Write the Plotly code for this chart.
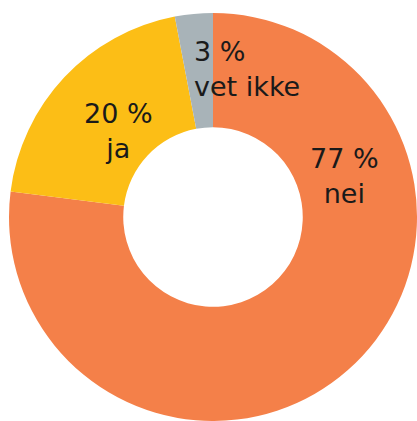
import plotly.graph_objects as go

labels = ["nei", "ja", "vet ikke"]
values = [77, 20, 3]
colors = ["#F48049", "#FCBE16", "#A8B3B8"]

W, H = 417, 421

fig = go.Figure()
fig.add_trace(go.Pie(
    labels=labels,
    values=values,
    sort=False,
    direction="clockwise",
    rotation=0,
    hole=0.44,
    marker=dict(colors=colors, line=dict(width=0)),
    textinfo="none",
    hoverinfo="label+percent",
    showlegend=False,
    domain=dict(x=[9 / W, 1], y=[0, 408 / H]),
))

# label positions in pixels (center x, center y, anchor)
label_pos = [(344, 176, "center"), (118, 131, "center"), (192, 69, "left")]
font = dict(family="DejaVu Sans", size=27, color="#1a1a1a")
for lab, val, (px, py, anc) in zip(labels, values, label_pos):
    fig.add_annotation(
        x=px / W, y=1 - py / H, xref="paper", yref="paper",
        text=f"{val} %<br>{lab}", showarrow=False,
        xanchor=anc, yanchor="middle", align=anc,
        font=font,
    )

fig.update_layout(
    width=W, height=H,
    margin=dict(l=0, r=0, t=0, b=0),
    paper_bgcolor="white", plot_bgcolor="white",
)
fig.write_html(
    "out.html",
    config={"displayModeBar": False},
    post_script="document.body.style.margin='0';document.body.style.overflow='hidden';",
)
